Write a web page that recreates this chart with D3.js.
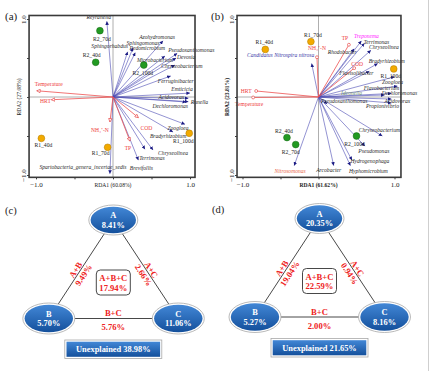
<!DOCTYPE html>
<html>
<head>
<meta charset="utf-8">
<script src="https://d3js.org/d3.v7.min.js"></script>
<style>body{margin:0;background:#fff}</style>
</head>
<body>
<svg width="432" height="371"></svg>
<script>
// ---------- panel (a): RDA, samples / env factors / genera
const samplesA = [
  {name: "R1_40d", x: -0.93, y: -0.53, group: 1},
  {name: "R1_70d", x: -0.07, y: -0.645, group: 1},
  {name: "R1_100d", x: 0.99, y: -0.465, group: 1},
  {name: "R2_40d", x: -0.225, y: 0.445, group: 2},
  {name: "R2_70d", x: -0.17, y: 0.85, group: 2},
  {name: "R2_100d", x: 0.40, y: 0.41, group: 2}
];
const envA = [
  {name: "Temperature", x: -0.99, y: 0.08},
  {name: "HRT", x: -0.80, y: -0.035},
  {name: "NH₄⁺-N", x: -0.04, y: -0.32},
  {name: "COD", x: 0.33, y: -0.265},
  {name: "TP", x: 0.22, y: -0.565}
];
const generaA = [
  {name: "Reyranella", x: -0.08, y: 0.97},
  {name: "Sphingorhabdus", x: 0.19, y: 0.58},
  {name: "Sphingomonas", x: 0.26, y: 0.63},
  {name: "Pedomicrobium", x: 0.29, y: 0.57},
  {name: "Azohydromonas", x: 0.65, y: 0.72},
  {name: "Pseudoxanthomonas", x: 0.835, y: 0.56},
  {name: "Devosia", x: 0.82, y: 0.50},
  {name: "Microbacterium", x: 0.675, y: 0.526},
  {name: "Chryseobacterium", x: 0.805, y: 0.41},
  {name: "Ferruginibacter", x: 0.75, y: 0.27},
  {name: "Emticicia", x: 1.0, y: 0.05},
  {name: "Acidovorax", x: 0.98, y: -0.017},
  {name: "Runella", x: 0.98, y: -0.06},
  {name: "Dechloromonas", x: 0.95, y: -0.064},
  {name: "Zoogloea", x: 0.935, y: -0.35},
  {name: "Bradyrhizobium", x: 0.78, y: -0.45},
  {name: "Chryseolinea", x: 0.52, y: -0.68},
  {name: "Terrimonas", x: 0.415, y: -0.67},
  {name: "Brevifollis", x: 0.33, y: -0.81},
  {name: "Spartobacteria_genera_incertae_sedis", x: -0.04, y: -0.985}
];

// ---------- panel (b)
const samplesB = [
  {name: "R1_40d", x: -0.70, y: 0.61, group: 1},
  {name: "R1_70d", x: -0.10, y: 0.71, group: 1},
  {name: "R1_100d", x: 0.99, y: 0.36, group: 1},
  {name: "R2_40d", x: -0.415, y: -0.52, group: 2},
  {name: "R2_70d", x: -0.30, y: -0.61, group: 2},
  {name: "R2_100d", x: 0.50, y: -0.50, group: 2}
];
const envB = [
  {name: "HRT", x: -0.82, y: 0.077},
  {name: "Temperature", x: -0.86, y: -0.006},
  {name: "TP", x: 0.40, y: 0.67},
  {name: "NH₄⁺-N", x: -0.02, y: 0.51},
  {name: "COD", x: 0.47, y: 0.37}
];
const generaB = [
  {name: "Candidatus Nitrospira nitrosa", x: -0.09, y: 0.43},
  {name: "Treponema", x: 0.565, y: 0.72},
  {name: "Terrimonas", x: 0.605, y: 0.69},
  {name: "Chryseolinea", x: 0.69, y: 0.60},
  {name: "Rhodobacter", x: 0.47, y: 0.62},
  {name: "Bradyrhizobium", x: 0.78, y: 0.43},
  {name: "Flavisolibacter", x: 0.67, y: 0.33},
  {name: "Zoogloea", x: 1.0, y: 0.26},
  {name: "Flavobacterium", x: 1.04, y: 0.14},
  {name: "Dechloromonas", x: 0.96, y: 0.045},
  {name: "Ideonella", x: 0.87, y: 0.026},
  {name: "Pseudoxanthomonas", x: 0.115, y: -0.09},
  {name: "Acidovorax", x: 0.96, y: -0.026},
  {name: "Propionivibrio", x: 0.96, y: -0.077},
  {name: "Chryseobacterium", x: 0.84, y: -0.50},
  {name: "Pseudomonas", x: 0.61, y: -0.63},
  {name: "Hydrogenophaga", x: 0.44, y: -0.81},
  {name: "Hyphomicrobium", x: 0.42, y: -0.88},
  {name: "Arcobacter", x: 0.20, y: -0.88},
  {name: "Nitrosomonas", x: -0.32, y: -0.88}
];

// ---------- variation partitioning (c) and (d)
const vennParts = ["A", "B", "C", "A+B", "A+C", "B+C", "A+B+C", "Unexplained"];
const vennC = [8.41, 5.70, 11.06, 9.49, 2.66, 5.76, 17.94, 38.98];
const vennD = [20.35, 5.27, 8.16, 19.04, 0.94, 2.00, 22.59, 21.65];

// label nudges (px) relative to the arrow tip / point
const nudgeA = {
  "R1_40d": [2, 7], "R1_70d": [-7, 6], "R1_100d": [-6, 8], "R2_40d": [-4, -7], "R2_70d": [2, 8], "R2_100d": [-1, 8],
  "Temperature": [12, -7], "HRT": [-6, 1], "NH₄⁺-N": [-10, 8], "COD": [8, 10], "TP": [-2, 7],
  "Reyranella": [-8, -4.5], "Sphingorhabdus": [-18, -5.5], "Sphingomonas": [10, -5], "Pedomicrobium": [12, -4.5],
  "Azohydromonas": [-6, -4], "Pseudoxanthomonas": [14, -3.5], "Devosia": [10, -1], "Microbacterium": [-10, 4],
  "Chryseobacterium": [7, 1], "Ferruginibacter": [5, 5], "Emticicia": [-8, -4], "Acidovorax": [-17, -1],
  "Runella": [11, 0], "Dechloromonas": [-16, 4], "Zoogloea": [-7, 4], "Bradyrhizobium": [-5, 4],
  "Chryseolinea": [20, 3], "Terrimonas": [7, 9], "Brevifollis": [3, 8], "Spartobacteria_genera_incertae_sedis": [-27, -7]
};
const nudgeB = {
  "R1_40d": [-1, -7], "R1_70d": [2, -7], "R1_100d": [-3, 7], "R2_40d": [-3, -7], "R2_70d": [-5, 7], "R2_100d": [-2, 8],
  "HRT": [-10, 0], "Temperature": [-4, 7], "TP": [-4, -7], "NH₄⁺-N": [0, -9], "COD": [3, -4],
  "Candidatus Nitrospira nitrosa": [-31, -8], "Treponema": [5, -5], "Terrimonas": [12, -1], "Chryseolinea": [13, -3],
  "Rhodobacter": [-12, 3], "Bradyrhizobium": [9, -2], "Flavisolibacter": [-13, 2], "Zoogloea": [-2, 5],
  "Flavobacterium": [-16, 2], "Dechloromonas": [8, 0], "Ideonella": [-33, -2], "Pseudoxanthomonas": [17, -3],
  "Acidovorax": [6, 2], "Propionivibrio": [-9, 3], "Chryseobacterium": [-3, -6], "Pseudomonas": [9, 5],
  "Hydrogenophaga": [18, 1], "Hyphomicrobium": [18, 5], "Arcobacter": [-5, 4], "Nitrosomonas": [-4, 5]
};
const labelColorB = {
  "Candidatus Nitrospira nitrosa": "#3a3aa8", "Treponema": "#ff22ff", "Ideonella": "#6f8f6f", "Nitrosomonas": "#e8684a"
};

const FONT = "'Liberation Serif','Times New Roman',serif";
const svg = d3.select("svg");
const defs = svg.append("defs");

defs.append("marker").attr("id", "headBlue")
  .attr("viewBox", "0 -3 6 6").attr("refX", 6).attr("refY", 0)
  .attr("markerUnits", "userSpaceOnUse").attr("markerWidth", 3.6).attr("markerHeight", 3.6)
  .attr("orient", "auto")
  .append("path").attr("d", "M0,-3L6,0L0,3Z").attr("fill", "#1c1c84");
defs.append("marker").attr("id", "headRed")
  .attr("viewBox", "0 -4 8 8").attr("refX", 7).attr("refY", 0)
  .attr("markerUnits", "userSpaceOnUse").attr("markerWidth", 4.5).attr("markerHeight", 4.5)
  .attr("orient", "auto")
  .append("path").attr("d", "M1,-3L7,0L1,3Z").attr("fill", "#fff").attr("stroke", "#e84848").attr("stroke-width", 1.2);
defs.append("marker").attr("id", "dotRed")
  .attr("viewBox", "-4 -4 8 8").attr("refX", 0).attr("refY", 0)
  .attr("markerUnits", "userSpaceOnUse").attr("markerWidth", 4.5).attr("markerHeight", 4.5)
  .append("circle").attr("r", 2.6).attr("fill", "#fff").attr("stroke", "#e84848").attr("stroke-width", 1.2);

const grad = defs.append("linearGradient").attr("id", "blueFill").attr("x1", 0).attr("y1", 0).attr("x2", 0).attr("y2", 1);
grad.append("stop").attr("offset", "0%").attr("stop-color", "#4287d6");
grad.append("stop").attr("offset", "100%").attr("stop-color", "#14509c");

function drawRDA(o) {
  const g = svg.append("g");
  const x = d3.scaleLinear().domain([-1, 1]).range(o.xRange);
  const y = d3.scaleLinear().domain([-1, 1]).range([175, 19]);
  const X0 = x(o.xExt[0]), X1 = x(o.xExt[1]), Y0 = y(o.yExt[0]), Y1 = y(o.yExt[1]);

  // zero lines
  g.append("line").attr("x1", x(0)).attr("x2", x(0)).attr("y1", Y1).attr("y2", Y0)
    .attr("stroke", "#9a9a9a").attr("stroke-width", 0.8);
  g.append("line").attr("x1", X0).attr("x2", X1).attr("y1", y(0)).attr("y2", y(0))
    .attr("stroke", "#9a9a9a").attr("stroke-width", 0.8);

  // genera arrows
  g.append("g").selectAll("line").data(o.genera).join("line")
    .attr("x1", x(0)).attr("y1", y(0)).attr("x2", d => x(d.x)).attr("y2", d => y(d.y))
    .attr("stroke", "#4a4ab4").attr("stroke-width", 0.6)
    .attr("marker-end", "url(#headBlue)");
  // environmental arrows
  g.append("g").selectAll("line").data(o.env).join("line")
    .attr("x1", x(0)).attr("y1", y(0)).attr("x2", d => x(d.x)).attr("y2", d => y(d.y))
    .attr("stroke", "#ee5050").attr("stroke-width", 0.8)
    .attr("marker-end", o.redHead);

  // samples
  g.append("g").selectAll("circle").data(o.samples).join("circle")
    .attr("cx", d => x(d.x)).attr("cy", d => y(d.y)).attr("r", 3.4)
    .attr("fill", d => d.group === 1 ? "#f2aa00" : "#229a22")
    .attr("stroke", d => d.group === 1 ? "#b07a00" : "#146614").attr("stroke-width", 0.5);

  const lab = (sel, data, color, italic) => sel.selectAll("text").data(data).join("text")
    .attr("x", d => x(d.x) + o.nudge[d.name][0])
    .attr("y", d => y(d.y) + o.nudge[d.name][1])
    .attr("dy", "0.35em").attr("text-anchor", "middle")
    .attr("font-family", FONT).attr("font-size", 5.6)
    .attr("font-style", italic ? "italic" : "normal")
    .attr("fill", color)
    .text(d => d.name);
  lab(g.append("g"), o.genera, d => (o.labelColor && o.labelColor[d.name]) || "#2a2a2a", true);
  lab(g.append("g"), o.env, "#ee4040", false);
  lab(g.append("g"), o.samples, "#222", false);

  // frame
  g.append("rect").attr("x", X0).attr("y", Y1).attr("width", X1 - X0).attr("height", Y0 - Y1)
    .attr("fill", "none").attr("stroke", "#3a3a3a").attr("stroke-width", 1.6);

  // axes: ticks every 0.5, labels only at ±1
  const ticks = [-1, -0.5, 0, 0.5, 1];
  const fmt = d => Math.abs(d) === 1 ? d3.format(".1f")(d) : "";
  const ax = g.append("g").attr("transform", `translate(0,${Y0})`)
    .call(d3.axisBottom(x).tickValues(ticks).tickFormat(fmt).tickSize(2).tickPadding(2.5));
  const ay = g.append("g").attr("transform", `translate(${X0},0)`)
    .call(d3.axisLeft(y).tickValues(ticks).tickFormat(fmt).tickSize(2));
  [ax, ay].forEach(a => {
    a.select(".domain").remove();
    a.selectAll("line").attr("stroke", "#3a3a3a");
    a.selectAll("text").attr("font-family", FONT).attr("font-size", 7).attr("fill", "#222");
  });
  ay.selectAll("text").attr("transform", "rotate(-90)")
    .attr("x", 0).attr("y", -3.5).attr("dy", 0).attr("text-anchor", "middle");

  g.append("text").attr("x", x(0)).attr("y", Y0 + 10)
    .attr("text-anchor", "middle").attr("font-family", FONT).attr("font-size", 5.6)
    .attr("font-weight", o.bold ? "bold" : "normal").attr("fill", "#222")
    .text(o.xTitle);
  g.append("text").attr("transform", `translate(${X0 - 8},${y(0)}) rotate(-90)`)
    .attr("text-anchor", "middle").attr("font-family", FONT).attr("font-size", 5.6)
    .attr("font-weight", o.bold ? "bold" : "normal").attr("fill", "#222")
    .text(o.yTitle);
  svg.append("text").attr("x", o.tag[0]).attr("y", o.tag[1])
    .attr("font-family", FONT).attr("font-size", 11).attr("fill", "#222").text(o.tag[2]);
}

drawRDA({
  xRange: [36, 190], xExt: [-1.09, 1.065], yExt: [-1.03, 1.045],
  samples: samplesA, env: envA, genera: generaA, nudge: nudgeA,
  redHead: "url(#headRed)", xTitle: "RDA1 (60.08%)", yTitle: "RDA2 (27.08%)", bold: false,
  tag: [5, 20, "(a)"]
});
drawRDA({
  xRange: [242.5, 394.5], xExt: [-1.072, 1.085], yExt: [-1.03, 1.045],
  samples: samplesB, env: envB, genera: generaB, nudge: nudgeB, labelColor: labelColorB,
  redHead: "url(#dotRed)", xTitle: "RDA1 (61.62%)", yTitle: "RDA2 (23.81%)", bold: true,
  tag: [211, 20, "(b)"]
});

function drawVenn(vals, cx, topY, tag) {
  const g = svg.append("g");
  const pct = v => d3.format(".2f")(v) + "%";
  const A = [cx, topY], B = [cx - 64.5, topY + 98.5], C = [cx + 65, topY + 98.5];

  // triangle edges (under the ellipses)
  [[A, B], [A, C], [B, C]].forEach(([p, q]) => g.append("line")
    .attr("x1", p[0]).attr("y1", p[1]).attr("x2", q[0]).attr("y2", q[1])
    .attr("stroke", "#333").attr("stroke-width", 0.9));

  // edge labels
  const edge = (p, q, name, v) => {
    const t = 0.53;
    const mx = p[0] + (q[0] - p[0]) * t, my = p[1] + (q[1] - p[1]) * t;
    let ang = Math.atan2(q[1] - p[1], q[0] - p[0]) * 180 / Math.PI;
    if (ang > 90) ang -= 180;
    if (ang < -90) ang += 180;
    const r = ang * Math.PI / 180;
    const up = [Math.sin(r), -Math.cos(r)];
    let nx = up[0], ny = up[1];
    // make "up" point away from the triangle centre
    const gx = cx, gy = topY + 66;
    if ((mx - gx) * nx + (my - gy) * ny < 0) { nx = -nx; ny = -ny; }
    [[name, 4.2], [pct(v), -5.2]].forEach(([txt, off]) => g.append("text")
      .attr("transform", `translate(${mx + nx * off},${my + ny * off}) rotate(${ang})`)
      .attr("text-anchor", "middle").attr("dy", "0.35em")
      .attr("font-family", FONT).attr("font-size", 8.6).attr("font-weight", "bold").attr("fill", "#ee2222")
      .text(txt));
  };
  edge(A, B, vennParts[3], vals[3]);
  edge(A, C, vennParts[4], vals[4]);
  const by = B[1] + 0.5;
  g.append("text").attr("x", cx).attr("y", by - 6).attr("text-anchor", "middle").attr("dy", "0.35em")
    .attr("font-family", FONT).attr("font-size", 8.6).attr("font-weight", "bold").attr("fill", "#ee2222")
    .text(vennParts[5]);
  g.append("text").attr("x", cx).attr("y", by + 8).attr("text-anchor", "middle").attr("dy", "0.35em")
    .attr("font-family", FONT).attr("font-size", 8.6).attr("font-weight", "bold").attr("fill", "#ee2222")
    .text(pct(vals[5]));

  // shared box
  g.append("rect").attr("x", cx - 17).attr("y", topY + 50).attr("width", 34).attr("height", 25).attr("rx", 4)
    .attr("fill", "#fff").attr("stroke", "#333").attr("stroke-width", 0.9);
  [[vennParts[6], topY + 58], [pct(vals[6]), topY + 67.5]].forEach(([txt, yy]) => g.append("text")
    .attr("x", cx).attr("y", yy).attr("text-anchor", "middle").attr("dy", "0.35em")
    .attr("font-family", FONT).attr("font-size", 8.6).attr("font-weight", "bold").attr("fill", "#ee2222")
    .text(txt));

  // ellipses
  [[A, 0, 24.5, 15], [B, 1, 26, 15.5], [C, 2, 26, 15.5]].forEach(([p, i, rx, ry]) => {
    g.append("ellipse").attr("cx", p[0]).attr("cy", p[1]).attr("rx", rx).attr("ry", ry)
      .attr("fill", "#fff").attr("stroke", "#a8a8a8").attr("stroke-width", 0.8);
    g.append("ellipse").attr("cx", p[0]).attr("cy", p[1]).attr("rx", rx - 1.8).attr("ry", ry - 1.8)
      .attr("fill", "url(#blueFill)");
    g.append("text").attr("x", p[0]).attr("y", p[1] - 4.5).attr("text-anchor", "middle").attr("dy", "0.35em")
      .attr("font-family", FONT).attr("font-size", 8.4).attr("font-weight", "bold").attr("fill", "#fff")
      .text(vennParts[i]);
    g.append("text").attr("x", p[0]).attr("y", p[1] + 5).attr("text-anchor", "middle").attr("dy", "0.35em")
      .attr("font-family", FONT).attr("font-size", 8.4).attr("font-weight", "bold").attr("fill", "#fff")
      .text(pct(vals[i]));
  });

  // unexplained
  const uy = topY + 120;
  g.append("rect").attr("x", cx - 48.5).attr("y", uy).attr("width", 97).attr("height", 18.5)
    .attr("fill", "#fff").attr("stroke", "#a8a8a8").attr("stroke-width", 0.8);
  g.append("rect").attr("x", cx - 46.8).attr("y", uy + 1.7).attr("width", 93.6).attr("height", 15.1)
    .attr("fill", "url(#blueFill)");
  g.append("text").attr("x", cx).attr("y", uy + 9.3).attr("text-anchor", "middle").attr("dy", "0.35em")
    .attr("font-family", FONT).attr("font-size", 8.4).attr("font-weight", "bold").attr("fill", "#fff")
    .text(vennParts[7] + " " + pct(vals[7]));

  svg.append("text").attr("x", tag[0]).attr("y", tag[1])
    .attr("font-family", FONT).attr("font-size", 10.5).attr("fill", "#222").text(tag[2]);
}

drawVenn(vennC, 113.3, 220, [5, 214, "(c)"]);
drawVenn(vennD, 319.5, 218.5, [212, 213, "(d)"]);

// page edge line of the source document
svg.append("line").attr("x1", 428.5).attr("x2", 428.5).attr("y1", 0).attr("y2", 371)
  .attr("stroke", "#cfcfcf").attr("stroke-width", 1);
</script>
</body>
</html>
